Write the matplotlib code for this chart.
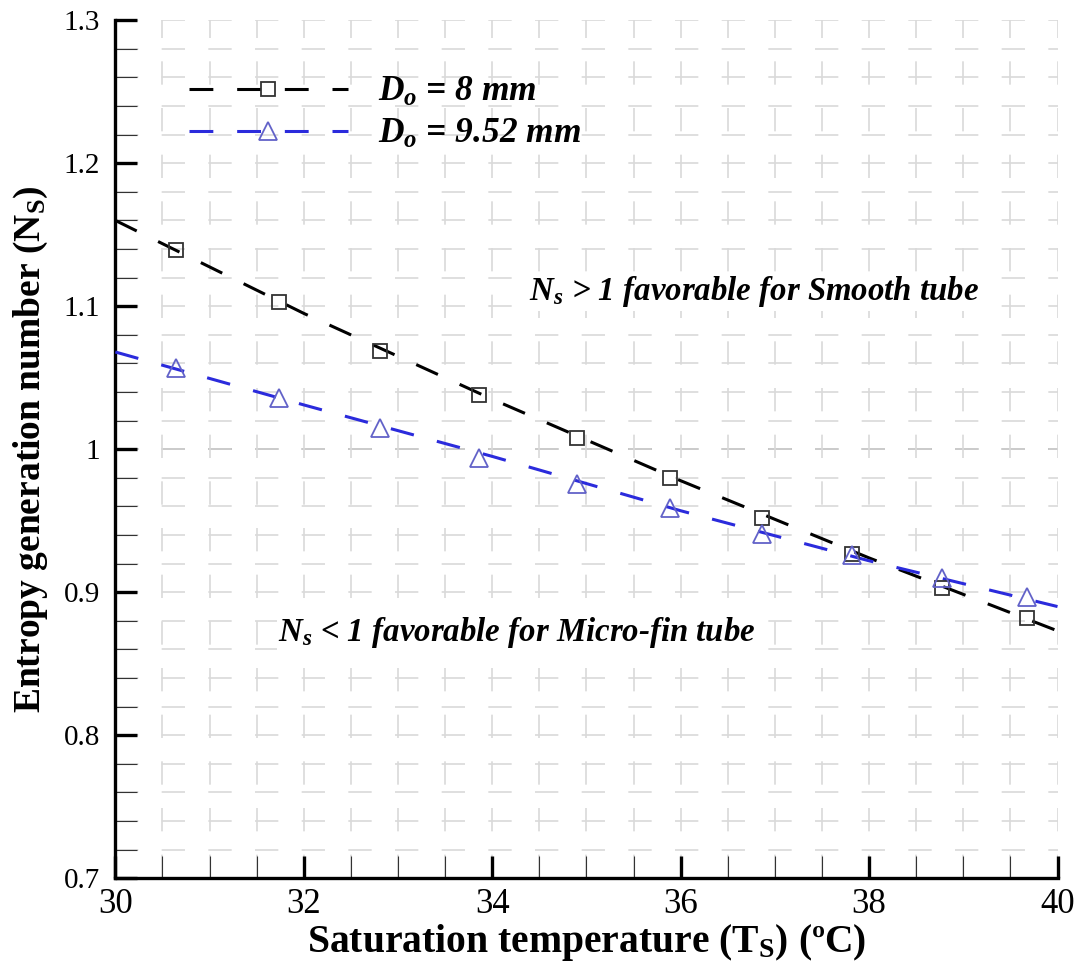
import matplotlib
matplotlib.use('Agg')
import matplotlib.pyplot as plt
from matplotlib.ticker import MultipleLocator, FuncFormatter
from matplotlib.legend_handler import HandlerTuple

plt.rcParams['font.family'] = ['Liberation Serif', 'DejaVu Serif']
plt.rcParams['mathtext.fontset'] = 'custom'
plt.rcParams['mathtext.rm'] = 'Liberation Serif:bold'
plt.rcParams['mathtext.it'] = 'Liberation Serif:bold:italic'
plt.rcParams['mathtext.bf'] = 'Liberation Serif:bold'

# measured points
T = [30.64, 31.74, 32.81, 33.86, 34.90, 35.89, 36.86, 37.82, 38.77, 39.68]
ns_8 = [1.139, 1.103, 1.069, 1.038, 1.008, 0.980, 0.952, 0.927, 0.903, 0.882]
ns_952 = [1.057, 1.036, 1.015, 0.994, 0.976, 0.959, 0.941, 0.926, 0.910, 0.897]

# trend lines
fit_T = [30, 32, 34, 36, 38, 40]
fit_8 = [1.160, 1.095, 1.035, 0.978, 0.924, 0.873]
fit_952 = [1.068, 1.031, 0.995, 0.957, 0.922, 0.890]

labels = [r'$D_o$ = 8 mm', r'$D_o$ = 9.52 mm']

c_black = '#000000'
c_blue = '#2b2bdc'

fig = plt.figure(figsize=(10.78, 9.63), dpi=100)
ax = fig.add_axes([0.107, 0.088, 0.874, 0.891])

ax.set_xlim(30, 40)
ax.set_ylim(0.7, 1.3)
ax.xaxis.set_major_locator(MultipleLocator(2))
ax.xaxis.set_minor_locator(MultipleLocator(0.5))
ax.yaxis.set_major_locator(MultipleLocator(0.1))
ax.yaxis.set_minor_locator(MultipleLocator(0.02))
ax.yaxis.set_major_formatter(FuncFormatter(lambda v, p: f'{v:g}'))

ax.grid(which='both', color='#d9d9d9', lw=1.2, linestyle=(0, (14, 14)), zorder=0)
ax.axhline(1.0, color='#707070', lw=1.2, linestyle=(0, (14, 14)), zorder=1)

dash = (0, (7.8, 7.8))
l1, = ax.plot(fit_T, fit_8, color=c_black, lw=2.2, linestyle=dash, zorder=3)
l2, = ax.plot(fit_T, fit_952, color=c_blue, lw=2.2, linestyle=dash, zorder=3)
m1, = ax.plot(T, ns_8, ls='none', marker='s', ms=10.5, mfc='none', mec='#333333', mew=1.3, zorder=4)
m2, = ax.plot(T, ns_952, ls='none', marker='^', ms=13, mfc='none', mec='#6262c8', mew=1.3, zorder=4)

for s in ['top', 'right']:
    ax.spines[s].set_visible(False)
for s in ['left', 'bottom']:
    ax.spines[s].set_linewidth(2.4)

ax.tick_params(which='major', direction='in', length=16, width=2.4)
ax.tick_params(which='minor', direction='in', length=16, width=0.8, color='#333333')
ax.tick_params(axis='x', which='major', labelsize=25, pad=7)
ax.tick_params(axis='y', which='major', labelsize=21, pad=11)

ax.set_xlabel(r'Saturation temperature (T$_\mathrm{S}$) (ºC)', fontsize=28.5, fontweight='bold', labelpad=1)
ax.set_ylabel(r'Entropy generation number (N$_\mathrm{S}$)', fontsize=27, fontweight='bold', labelpad=10)

ax.legend([(l1, m1), (l2, m2)], labels, handler_map={tuple: HandlerTuple(ndivide=1)},
          loc='upper left', bbox_to_anchor=(0.044, 0.972), frameon=False, numpoints=1,
          handlelength=4.5, handletextpad=0.85, labelspacing=0.25,
          prop={'size': 25.5, 'weight': 'bold', 'style': 'italic'})

txt = dict(fontsize=23.7, fontweight='bold', fontstyle='italic', ha='center', va='center',
           bbox=dict(facecolor='white', edgecolor='none', pad=1), zorder=5)
ax.text(36.78, 1.110, r'$N_s$ > 1 favorable for Smooth tube', **txt)
ax.text(34.26, 0.872, r'$N_s$ < 1 favorable for Micro-fin tube', **txt)

fig.savefig('out.png', dpi=100)
